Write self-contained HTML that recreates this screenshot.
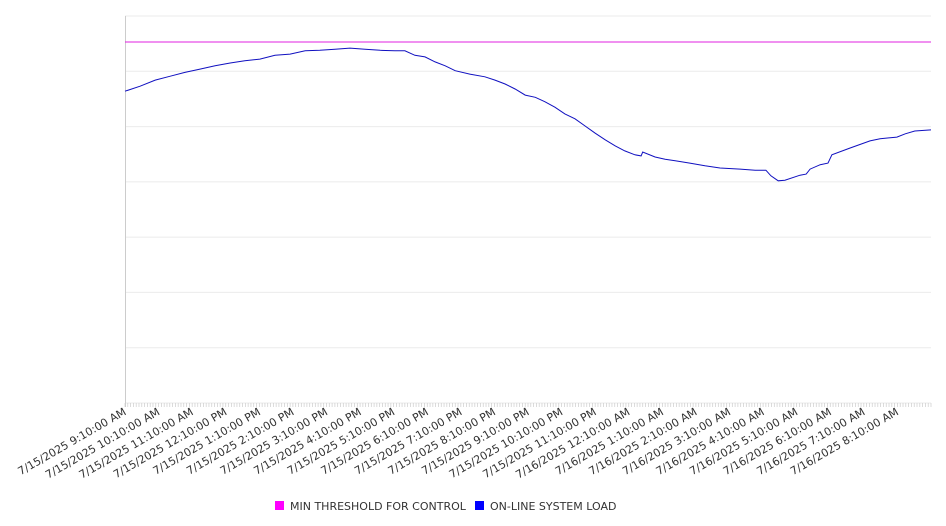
<!DOCTYPE html>
<html><head><meta charset="utf-8"><style>
html,body{margin:0;padding:0;background:#fff;}
svg{display:block;font-family:"DejaVu Sans","Liberation Sans",sans-serif;}
</style></head><body>
<svg id="chart" width="946" height="526" viewBox="0 0 946 526" xmlns="http://www.w3.org/2000/svg">
<g id="grid"></g>
<g id="xaxis"></g>
<g id="series"></g>
<g>
  <g>
    <rect x="275" y="501" width="9" height="9" fill="#ff00ff"></rect>
    <text x="290" y="510" font-size="11" fill="#333">MIN THRESHOLD FOR CONTROL</text>
  </g>
  <g>
    <rect x="475" y="501" width="9" height="9" fill="#0000ff"></rect>
    <text x="490" y="510" font-size="11" fill="#333">ON-LINE SYSTEM LOAD</text>
  </g>
</g>
</svg>
<script>
const tickLabels = ["7/15/2025 9:10:00 AM","7/15/2025 10:10:00 AM","7/15/2025 11:10:00 AM","7/15/2025 12:10:00 PM","7/15/2025 1:10:00 PM","7/15/2025 2:10:00 PM","7/15/2025 3:10:00 PM","7/15/2025 4:10:00 PM","7/15/2025 5:10:00 PM","7/15/2025 6:10:00 PM","7/15/2025 7:10:00 PM","7/15/2025 8:10:00 PM","7/15/2025 9:10:00 PM","7/15/2025 10:10:00 PM","7/15/2025 11:10:00 PM","7/16/2025 12:10:00 AM","7/16/2025 1:10:00 AM","7/16/2025 2:10:00 AM","7/16/2025 3:10:00 AM","7/16/2025 4:10:00 AM","7/16/2025 5:10:00 AM","7/16/2025 6:10:00 AM","7/16/2025 7:10:00 AM","7/16/2025 8:10:00 AM"];
const yTicks = [0,100,200,300,400,500,600,700];
const thresholdValue = 653;
const loadMinutes = [0,27,54,80,107,134,161,188,214,241,268,295,322,348,375,402,429,456,482,500,518,536,554,572,590,616,643,661,679,697,715,733,750,768,786,804,822,840,858,876,893,911,922,925,947,965,983,1009,1036,1063,1099,1126,1145,1154,1167,1179,1206,1217,1224,1242,1256,1263,1295,1331,1349,1379,1394,1411,1440];
const loadValues = [564,573,584,591,598,604,610,615,619,622,629,631,637,638,640,642,640,638,637,637,629,626,617,610,601,595,590,584,577,568,557,553,545,535,523,514,501,488,476,465,456,449,447,454,445,441,438,434,429,425,423,421,421,411,402,403,412,414,423,431,434,449,461,474,478,481,487,492,494];

const NS="http://www.w3.org/2000/svg";
const X0=125,X1=931,Y0=403,Y1=16,XMAX=1440,YMAX=700;
function xs(m){return X0+(X1-X0)*m/XMAX;}
function ys(v){return Y0-(Y0-Y1)*v/YMAX;}
function mk(tag,attrs,parent){const e=document.createElementNS(NS,tag);for(const k in attrs)e.setAttribute(k,attrs[k]);parent.appendChild(e);return e;}
const grid=document.getElementById('grid'),xa=document.getElementById('xaxis'),se=document.getElementById('series');
yTicks.forEach(v=>{
  const l=mk('line',{x1:X0,x2:X1,y1:ys(v),y2:ys(v),stroke:'#ebebeb','stroke-width':1},grid);
  
  
});
const ya=mk('line',{x1:X0+0.5,x2:X0+0.5,y1:Y1,y2:Y0+4,stroke:'#ccc'},xa);


for(let m=0;m<=XMAX;m+=5){
  const t=mk('line',{x1:xs(m),x2:xs(m),y1:Y0,y2:Y0+4,stroke:'#ccc','stroke-width':0.7},xa);
  
  
}
tickLabels.forEach((s,i)=>{
  const x=xs(i*60)+2,y=Y0+11;
  const t=mk('text',{x:x,y:y,'text-anchor':'end','font-size':11,fill:'#333',transform:`rotate(-30 ${x} ${y})`},xa);
  t.textContent=s;
  
  
});
const th=mk('line',{x1:X0,x2:X1,y1:ys(thresholdValue),y2:ys(thresholdValue),stroke:'#e020e0','stroke-width':1},se);


const pts=loadMinutes.map((m,i)=>xs(m).toFixed(1)+','+ys(loadValues[i]).toFixed(1)).join(' ');
const pl=mk('polyline',{points:pts,fill:'none',stroke:'#1010c0','stroke-width':1},se);


</script>
</body></html>
